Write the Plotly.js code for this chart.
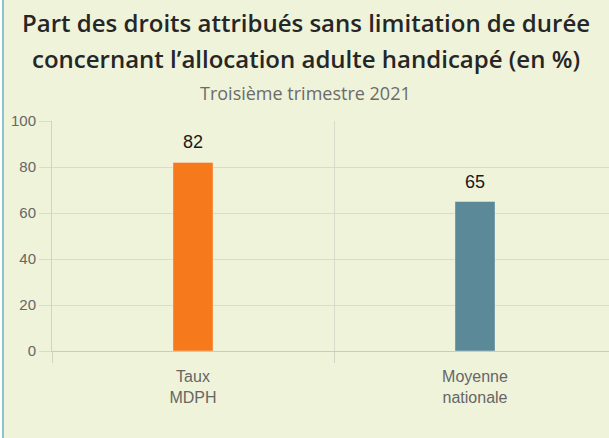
<!DOCTYPE html>
<html>
<head>
<meta charset="utf-8">
<script src="https://cdn.plot.ly/plotly-3.0.1.min.js"></script>
<style>
  html, body { margin: 0; padding: 0; background: #ffffff; overflow: hidden; }
  #frame {
    position: absolute; left: 2px; top: 0;
    width: 607px; height: 438px;
    border-left: 2px solid #8cc3cc;
    background: #eff3da;
    overflow: hidden;
  }
  #chart { position: absolute; left: 0; top: 0; }
</style>
</head>
<body>
<div id="frame"><div id="chart"></div></div>
<script>
// Chart data
const categories = ['Taux<br>MDPH', 'Moyenne<br>nationale'];
const values = [82, 65];
const barColors = ['#f67a1c', '#5b8997'];

const titleLines = [
    'Part des droits attribués sans limitation de durée',
    'concernant l\u2019allocation adulte handicapé (en %)'
];
const subtitle = 'Troisième trimestre 2021';

const trace = {
    x: categories,
    y: values,
    type: 'bar',
    width: 0.142,
    marker: {
        color: barColors,
        line: { color: 'rgba(255,255,255,0.35)', width: 1 }
    },
    hoverinfo: 'none'
};

// value labels above each bar
const valueLabels = categories.map((cat, i) => ({
    x: cat,
    y: values[i],
    xref: 'x',
    yref: 'y',
    text: String(values[i]),
    showarrow: false,
    yanchor: 'bottom',
    yshift: 8,
    font: { family: 'Liberation Sans, Arial, sans-serif', size: 18, color: '#1a1a1a' }
}));

const headerLines = [
    { text: titleLines[0], y: 1.428, size: 24, weight: 600, color: '#262626' },
    { text: titleLines[1], y: 1.272, size: 24, weight: 600, color: '#262626' },
    { text: subtitle, y: 1.122, size: 18, weight: 400, color: '#6b6b6b' }
].map(h => ({
    text: h.text,
    xref: 'paper',
    yref: 'paper',
    x: 0.45,
    y: h.y,
    xanchor: 'center',
    yanchor: 'middle',
    showarrow: false,
    font: { family: 'Open Sans, sans-serif', size: h.size, weight: h.weight, color: h.color }
}));

const layout = {
    width: 612,
    height: 438,
    margin: { l: 48, r: 0, t: 121, b: 87 },
    paper_bgcolor: '#eff3da',
    plot_bgcolor: '#eff3da',
    showlegend: false,
    bargap: 0,
    xaxis: {
        type: 'category',
        range: [-0.5, 1.5],
        tickson: 'boundaries',
        ticks: 'outside',
        ticklen: 11,
        tickcolor: '#cfd3c2',
        showgrid: true,
        gridcolor: '#d9dccb',
        showline: true,
        linecolor: '#c9cdbb',
        ticklabelstandoff: 11,
        tickfont: { family: 'Liberation Sans, Arial, sans-serif', size: 16, color: '#666666' },
        fixedrange: true
    },
    yaxis: {
        range: [0, 100],
        tickvals: [0, 20, 40, 60, 80, 100],
        ticks: 'outside',
        ticklen: 12,
        tickcolor: '#d9dccb',
        gridcolor: '#d9dccb',
        zeroline: false,
        showline: true,
        linecolor: '#cfd3c2',
        tickfont: { family: 'Liberation Sans, Arial, sans-serif', size: 15, color: '#666666' },
        fixedrange: true
    },
    annotations: headerLines.concat(valueLabels)
};

Plotly.newPlot('chart', [trace], layout, { displayModeBar: false, staticPlot: true });
</script>
</body>
</html>
